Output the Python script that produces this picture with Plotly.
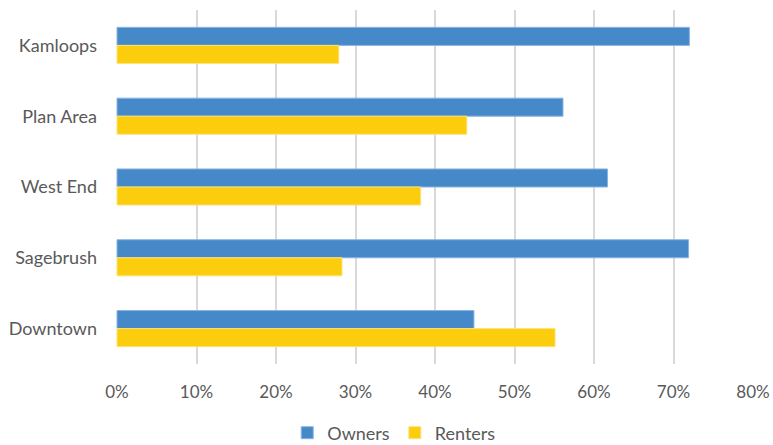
import plotly.graph_objects as go

categories = ["Kamloops", "Plan Area", "West End", "Sagebrush", "Downtown"]
owners = [0.720, 0.561, 0.617, 0.719, 0.449]
renters = [0.279, 0.440, 0.382, 0.283, 0.551]
tick_vals = [0, 0.1, 0.2, 0.3, 0.4, 0.5, 0.6, 0.7, 0.8]
tick_text = ["0%", "10%", "20%", "30%", "40%", "50%", "60%", "70%", "80%"]

fig = go.Figure()
fig.add_trace(go.Bar(y=categories, x=owners, name="Owners", orientation="h",
                     marker=dict(color="#4589c9", line=dict(color="#8ab4e0", width=1))))
fig.add_trace(go.Bar(y=categories, x=renters, name="Renters", orientation="h",
                     marker=dict(color="#fccd0d", line=dict(color="#fde27a", width=1))))

fig.update_layout(
    width=773, height=445,
    margin=dict(l=116, r=19, t=10, b=81, autoexpand=False),
    barmode="group", bargap=0.49, bargroupgap=0,
    plot_bgcolor="white", paper_bgcolor="white",
    font=dict(family="Lato, Open Sans, sans-serif", size=18, color="#595959"),
    legend=dict(orientation="h", x=0.51, xanchor="center", xref="container",
                y=0.027, yanchor="middle", yref="container",
                font=dict(size=18, color="#595959"), traceorder="normal",
                itemwidth=30),
    xaxis=dict(range=[-0.00126, 0.80126], tickvals=tick_vals, ticktext=tick_text,
               tickfont=dict(size=17),
               showgrid=True, gridcolor="#d9d9d9", gridwidth=1.5,
               zeroline=False, showline=False, ticks="", ticklabelstandoff=16,
               automargin=False),
    yaxis=dict(autorange="reversed", showgrid=False, showline=False, ticks="",
               ticklabelstandoff=18, automargin=False),
    showlegend=True,
)

fig.write_html("out.html", config={"displayModeBar": False},
               post_script="document.body.style.margin='0';document.documentElement.style.margin='0';")
